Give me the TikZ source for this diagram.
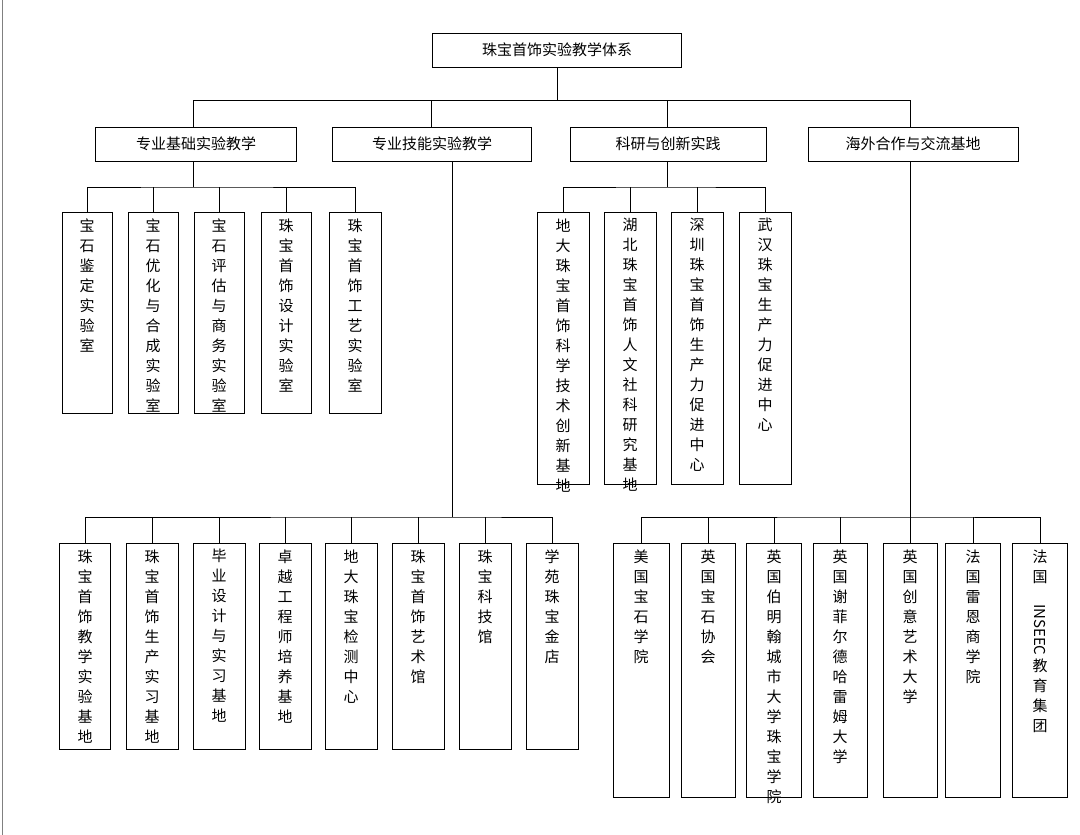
\documentclass[tikz,border=0pt]{standalone}
\usepackage{fontspec}
\setmainfont{Noto Sans CJK SC}
\usetikzlibrary{positioning}

\tikzset{
  head/.style={draw, thick, minimum height=34pt, font=\fontsize{15}{18}\selectfont},
  col/.style={draw, thick, anchor=north, inner sep=0pt, font=\fontsize{15}{20}\selectfont},
  link/.style={thick}
}
% vertical column of characters, top aligned
\newcommand{\colbox}[3]{\parbox[t][#2pt][t]{#1pt}{\centering\vspace{6pt}#3}}

\begin{document}
\begin{tikzpicture}[x=1pt, y=-1pt]
		\useasboundingbox (0,0) rectangle (1080,835);
		\draw[gray, thick] (2,0) -- (2,835);

		\node[head, minimum width=249pt] (root) at (557,50) {珠宝首饰实验教学体系};

		\node[head, minimum width=201pt] (base) at (196,144) {专业基础实验教学};
		\node[head, minimum width=199pt] (skill) at (432,144) {专业技能实验教学};
		\node[head, minimum width=196pt] (rsch) at (668,144) {科研与创新实践};
		\node[head, minimum width=210pt] (abrd) at (913,144) {海外合作与交流基地};

		\coordinate (rj) at (557,100);
		\draw[link] (root) -- (rj);
		\draw[link] (193,100) -- (910,100);
		\draw[link] (193,100) -- (193,127);
		\draw[link] (431,100) -- (431,127);
		\draw[link] (667,100) -- (667,127);
		\draw[link] (910,100) -- (910,127);

		% 专业基础
		\node[col] (b1) at (87,212) {\colbox{50}{201}{宝\\石\\鉴\\定\\实\\验\\室}};
		\node[col] (b2) at (153,212) {\colbox{50}{201}{宝\\石\\优\\化\\与\\合\\成\\实\\验\\室}};
		\node[col] (b3) at (219,212) {\colbox{50}{201}{宝\\石\\评\\估\\与\\商\\务\\实\\验\\室}};
		\node[col] (b4) at (286,212) {\colbox{50}{201}{珠\\宝\\首\\饰\\设\\计\\实\\验\\室}};
		\node[col] (b5) at (355,212) {\colbox{52}{201}{珠\\宝\\首\\饰\\工\\艺\\实\\验\\室}};
		\coordinate (bj) at (193,187);
		\draw[link] (193,161) -- (bj);
		\draw[link] (b1.north) |- (bj) -| (b5.north);
		\foreach \n in {b2,b3,b4} \draw[link] (\n.north) -- (\n.north |- bj);

		% 科研与创新
		\node[col] (r1) at (563,212) {\colbox{52}{272}{地\\大\\珠\\宝\\首\\饰\\科\\学\\技\\术\\创\\新\\基\\地}};
		\node[col] (r2) at (630,212) {\colbox{52}{272}{湖\\北\\珠\\宝\\首\\饰\\人\\文\\社\\科\\研\\究\\基\\地}};
		\node[col] (r3) at (697,212) {\colbox{52}{272}{深\\圳\\珠\\宝\\首\\饰\\生\\产\\力\\促\\进\\中\\心}};
		\node[col] (r4) at (765,212) {\colbox{52}{272}{武\\汉\\珠\\宝\\生\\产\\力\\促\\进\\中\\心}};
		\coordinate (rj2) at (667,187);
		\draw[link] (667,161) -- (rj2);
		\draw[link] (r1.north) |- (rj2) -| (r4.north);
		\foreach \n in {r2,r3} \draw[link] (\n.north) -- (\n.north |- rj2);

		% 专业技能
		\node[col] (s1) at (85,543) {\colbox{51}{206}{珠\\宝\\首\\饰\\教\\学\\实\\验\\基\\地}};
		\node[col] (s2) at (152,543) {\colbox{52}{206}{珠\\宝\\首\\饰\\生\\产\\实\\习\\基\\地}};
		\node[col] (s3) at (219,543) {\colbox{52}{206}{毕\\业\\设\\计\\与\\实\\习\\基\\地}};
		\node[col] (s4) at (285,543) {\colbox{52}{206}{卓\\越\\工\\程\\师\\培\\养\\基\\地}};
		\node[col] (s5) at (351,543) {\colbox{52}{206}{地\\大\\珠\\宝\\检\\测\\中\\心}};
		\node[col] (s6) at (418,543) {\colbox{52}{206}{珠\\宝\\首\\饰\\艺\\术\\馆}};
		\node[col] (s7) at (485,543) {\colbox{52}{206}{珠\\宝\\科\\技\\馆}};
		\node[col] (s8) at (552,543) {\colbox{52}{206}{学\\苑\\珠\\宝\\金\\店}};
		\coordinate (sj) at (452,517);
		\draw[link] (452,161) -- (sj);
		\draw[link] (s1.north) |- (sj) -| (s8.north);
		\foreach \n in {s2,s3,s4,s5,s6,s7} \draw[link] (\n.north) -- (\n.north |- sj);

		% 海外合作
		\node[col] (a1) at (641,543) {\colbox{56}{254}{美\\国\\宝\\石\\学\\院}};
		\node[col] (a2) at (708,543) {\colbox{54}{254}{英\\国\\宝\\石\\协\\会}};
		\node[col] (a3) at (774,543) {\colbox{55}{254}{英\\国\\伯\\明\\翰\\城\\市\\大\\学\\珠\\宝\\学\\院}};
		\node[col] (a4) at (840,543) {\colbox{54}{254}{英\\国\\谢\\菲\\尔\\德\\哈\\雷\\姆\\大\\学}};
		\node[col] (a5) at (910,543) {\colbox{54}{254}{英\\国\\创\\意\\艺\\术\\大\\学}};
		\node[col] (a6) at (973,543) {\colbox{55}{254}{法\\国\\雷\\恩\\商\\学\\院}};
		\node[col] (a7) at (1040,543) {\colbox{55}{254}{法\\国\\[2pt]\rotatebox{-90}{INSEEC}\\[2pt]教\\育\\集\\团}};
		\coordinate (aj) at (910,517);
		\draw[link] (910,161) -- (a5.north);
		\draw[link] (a1.north) |- (aj) -| (a7.north);
		\foreach \n in {a2,a3,a4,a6} \draw[link] (\n.north) -- (\n.north |- aj);
	\end{tikzpicture}
\end{document}
